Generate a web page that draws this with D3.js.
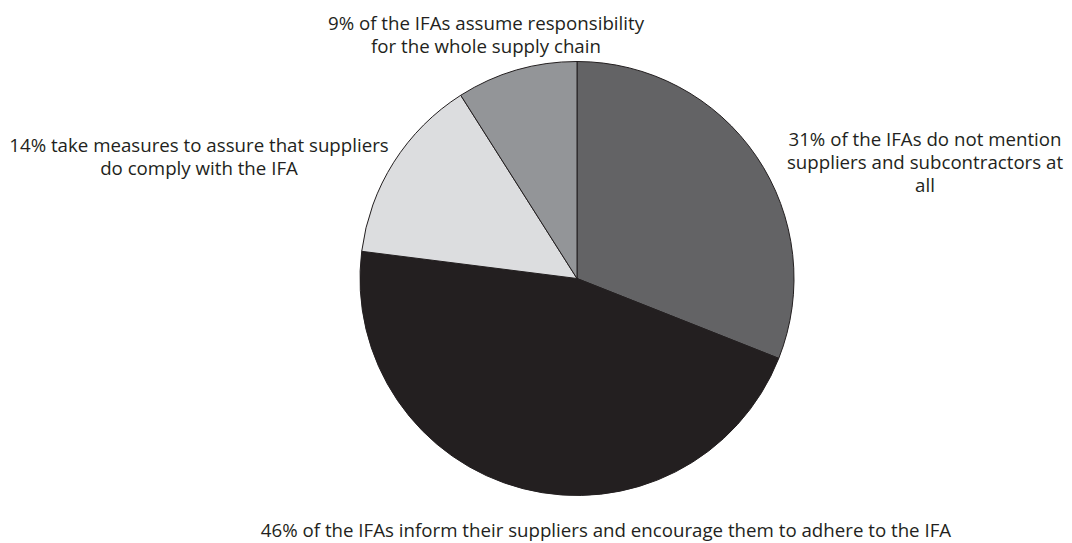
<!DOCTYPE html>
<html>
<head>
<meta charset="utf-8">
<script src="https://cdn.jsdelivr.net/npm/d3@7"></script>
<style>
  html, body { margin: 0; padding: 0; background: #fff; }
  svg { display: block; }
</style>
</head>
<body>
<div id="chart"></div>
<script>
// ── Data ──────────────────────────────────────────────────────────────────
const categories = ["none", "inform", "measures", "whole"];
const shares     = [31, 46, 14, 9];
const sliceFills = ["#636365", "#231f20", "#dcdddf", "#939598"];
const labelLines = [
  ["31% of the IFAs do not mention", "suppliers and subcontractors at", "all"],
  ["46% of the IFAs inform their suppliers and encourage them to adhere to the IFA"],
  ["14% take measures to assure that suppliers", "do comply with the IFA"],
  ["9% of the IFAs assume responsibility", "for the whole supply chain"]
];

// ── Layout ────────────────────────────────────────────────────────────────
const W = 1072, H = 543;
const cx = 577, cy = 278.5, R = 217;
const lineH = 23;
// label anchor (centre x, first baseline)
const labelPos = [
  [925, 146],
  [606, 537],
  [199, 152],
  [486, 30]
];

const svg = d3.select("#chart").append("svg")
  .attr("width", W).attr("height", H);

const data = categories.map((c, i) => ({ key: c, value: shares[i], fill: sliceFills[i] }));

const pie = d3.pie().value(d => d.value).sort(null);
const arc = d3.arc().innerRadius(0).outerRadius(R);

const g = svg.append("g").attr("transform", `translate(${cx},${cy})`);

g.selectAll("path.slice")
  .data(pie(data)).join("path").attr("class", "slice")
  .attr("d", arc)
  .attr("fill", d => d.data.fill)
  .attr("stroke", "#231f20").attr("stroke-width", 1)
  .attr("stroke-linejoin", "round");

// ── Labels ────────────────────────────────────────────────────────────────
const labels = svg.selectAll("text.lbl")
  .data(labelLines).join("text").attr("class", "lbl")
  .attr("text-anchor", "middle")
  .attr("font-family", "'Open Sans', 'Noto Sans', sans-serif")
  .attr("font-size", "18.7px")
  .attr("fill", "#231f20");

labels.each(function (lines, i) {
  const [x, y] = labelPos[i];
  d3.select(this).selectAll("tspan")
    .data(lines).join("tspan")
    .attr("x", x).attr("y", (d, j) => y + j * lineH)
    .text(d => d);
});
</script>
</body>
</html>
